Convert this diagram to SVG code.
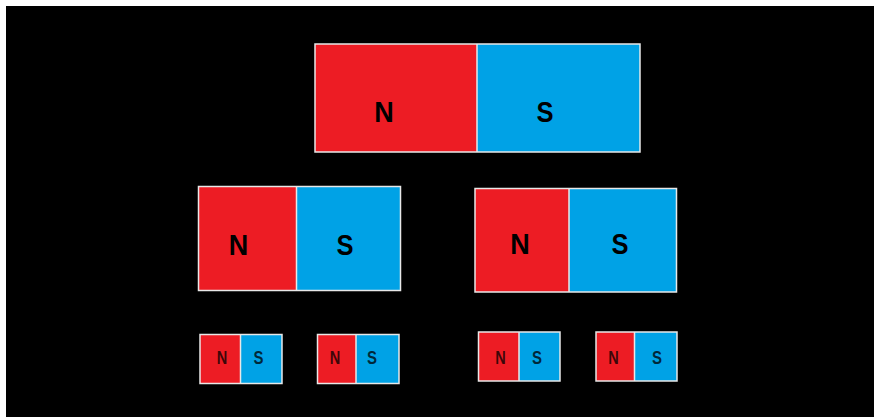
<svg xmlns="http://www.w3.org/2000/svg" width="874" height="417" viewBox="0 0 874 417">
<style>
.n{fill:#ed1c24}
.s{fill:#00a2e6}
.b{fill:none;stroke:#e8e8e8;stroke-width:1.5}
.d{stroke:#e8e8e8;stroke-width:1.5}
.t{font-family:"Liberation Sans",Arial,sans-serif;font-weight:bold;fill:#000;text-anchor:middle}
.L{font-size:30px}
.M{font-size:30px}
.S{font-size:19px;fill-opacity:0.75}
</style>
<rect x="0" y="0" width="874" height="417" fill="#fff"/>
<rect x="6" y="6" width="868" height="411" fill="#000"/>
<g id="magnet-top">
<rect class="n" x="315" y="44" width="162" height="108"/>
<rect class="s" x="477" y="44" width="163" height="108"/>
<rect class="b" x="315" y="44" width="325" height="108"/>
<line class="d" x1="477" y1="44" x2="477" y2="152"/>
<text class="t L" x="384" y="122" textLength="19.5" lengthAdjust="spacingAndGlyphs">N</text>
<text class="t L" x="545" y="122" textLength="17" lengthAdjust="spacingAndGlyphs">S</text>
</g>
<g id="magnet-mid-left">
<rect class="n" x="198.5" y="186.5" width="98" height="104"/>
<rect class="s" x="296.5" y="186.5" width="104" height="104"/>
<rect class="b" x="198.5" y="186.5" width="202" height="104"/>
<line class="d" x1="296.5" y1="186.5" x2="296.5" y2="290.5"/>
<text class="t M" x="238.5" y="255" textLength="19.5" lengthAdjust="spacingAndGlyphs">N</text>
<text class="t M" x="345" y="255" textLength="17" lengthAdjust="spacingAndGlyphs">S</text>
</g>
<g id="magnet-mid-right">
<rect class="n" x="475" y="188.5" width="94" height="103.5"/>
<rect class="s" x="569" y="188.5" width="107.5" height="103.5"/>
<rect class="b" x="475" y="188.5" width="201.5" height="103.5"/>
<line class="d" x1="569" y1="188.5" x2="569" y2="292"/>
<text class="t M" x="520" y="254" textLength="19.5" lengthAdjust="spacingAndGlyphs">N</text>
<text class="t M" x="620" y="254" textLength="17" lengthAdjust="spacingAndGlyphs">S</text>
</g>
<g id="magnet-small-1">
<rect class="n" x="200" y="334.5" width="40.5" height="49"/>
<rect class="s" x="240.5" y="334.5" width="41.5" height="49"/>
<rect class="b" x="200" y="334.5" width="82" height="49"/>
<line class="d" x1="240.5" y1="334.5" x2="240.5" y2="383.5"/>
<text class="t S" x="222" y="364" textLength="10.5" lengthAdjust="spacingAndGlyphs">N</text>
<text class="t S" x="258.5" y="364" textLength="10" lengthAdjust="spacingAndGlyphs">S</text>
</g>
<g id="magnet-small-2">
<rect class="n" x="317.5" y="334.5" width="38.5" height="49"/>
<rect class="s" x="356" y="334.5" width="43" height="49"/>
<rect class="b" x="317.5" y="334.5" width="81.5" height="49"/>
<line class="d" x1="356" y1="334.5" x2="356" y2="383.5"/>
<text class="t S" x="335" y="364" textLength="10.5" lengthAdjust="spacingAndGlyphs">N</text>
<text class="t S" x="372" y="364" textLength="10" lengthAdjust="spacingAndGlyphs">S</text>
</g>
<g id="magnet-small-3">
<rect class="n" x="478.5" y="332" width="40.5" height="49"/>
<rect class="s" x="519" y="332" width="41" height="49"/>
<rect class="b" x="478.5" y="332" width="81.5" height="49"/>
<line class="d" x1="519" y1="332" x2="519" y2="381"/>
<text class="t S" x="500.5" y="364" textLength="10.5" lengthAdjust="spacingAndGlyphs">N</text>
<text class="t S" x="537" y="364" textLength="10" lengthAdjust="spacingAndGlyphs">S</text>
</g>
<g id="magnet-small-4">
<rect class="n" x="596" y="332" width="38.5" height="49"/>
<rect class="s" x="634.5" y="332" width="42.5" height="49"/>
<rect class="b" x="596" y="332" width="81" height="49"/>
<line class="d" x1="634.5" y1="332" x2="634.5" y2="381"/>
<text class="t S" x="613.5" y="364" textLength="10.5" lengthAdjust="spacingAndGlyphs">N</text>
<text class="t S" x="657" y="364" textLength="10" lengthAdjust="spacingAndGlyphs">S</text>
</g>
<g id="connectors"></g>
</svg>
